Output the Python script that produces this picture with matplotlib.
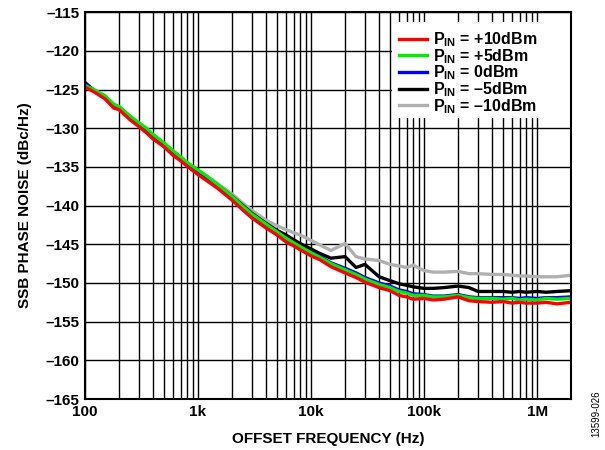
import matplotlib
matplotlib.use('Agg')
from matplotlib import pyplot as plt, ticker
from matplotlib.patches import Rectangle

plt.rcParams['font.family'] = ['Liberation Sans', 'DejaVu Sans']
plt.rcParams['mathtext.fontset'] = 'custom'
plt.rcParams['mathtext.rm'] = 'Liberation Sans:bold'
plt.rcParams['mathtext.default'] = 'rm'

# offset frequency (Hz), shared by every trace
freq = [100, 120, 150, 180, 200, 250, 300, 350, 400, 500, 600, 700, 800,
        1e3, 1.2e3, 1.5e3, 2e3, 2.5e3, 3e3, 4e3, 5e3, 6e3, 7e3, 8e3,
        1e4, 1.2e4, 1.5e4, 2e4, 2.5e4, 3e4, 4e4, 5e4, 6e4, 7e4, 8e4,
        1e5, 1.2e5, 1.5e5, 2e5, 2.5e5, 3e5, 4e5, 5e5, 6e5, 7e5, 8e5,
        1e6, 1.2e6, 1.5e6, 2e6]

pn_p10 = [-124.7, -125.3, -126.2, -127.4, -127.6, -128.9, -129.8, -130.6, -131.4, -132.4, -133.5, -134.2, -134.9,
          -136.0, -136.8, -137.8, -139.3, -140.6, -141.6, -142.9, -143.8, -144.7, -145.2, -145.7,
          -146.5, -147.0, -147.9, -148.7, -149.3, -149.9, -150.6, -151.0, -151.6, -151.8, -152.1,
          -152.0, -152.2, -152.1, -151.8, -152.3, -152.4, -152.5, -152.4, -152.6, -152.5, -152.6,
          -152.6, -152.5, -152.7, -152.5]
pn_p5 = [-124.5, -125.0, -125.8, -126.9, -127.2, -128.4, -129.3, -130.0, -130.8, -131.9, -132.9, -133.7, -134.4,
         -135.4, -136.2, -137.3, -138.8, -140.1, -141.1, -142.4, -143.4, -144.2, -144.8, -145.3,
         -146.1, -146.7, -147.5, -148.3, -148.9, -149.5, -150.2, -150.6, -151.1, -151.3, -151.6,
         -151.6, -151.8, -151.8, -151.6, -151.9, -152.0, -152.0, -152.1, -152.0, -152.2, -152.1,
         -152.2, -152.0, -152.1, -152.0]
pn_0 = [-124.2, -125.2, -126.0, -127.0, -127.4, -128.6, -129.5, -130.3, -131.0, -132.1, -133.1, -133.9, -134.6,
        -135.6, -136.4, -137.5, -138.9, -140.2, -141.2, -142.5, -143.5, -144.3, -144.9, -145.4,
        -146.0, -146.6, -147.4, -148.1, -148.7, -149.3, -150.0, -150.4, -150.9, -151.1, -151.4,
        -151.5, -151.7, -151.7, -151.5, -151.8, -151.9, -151.9, -151.9, -151.9, -152.0, -151.9,
        -152.0, -151.9, -151.9, -151.8]
pn_m5 = [-124.1, -125.1, -125.9, -127.0, -127.3, -128.5, -129.4, -130.2, -131.0, -132.0, -133.0, -133.8, -134.5,
         -135.5, -136.3, -137.4, -138.8, -140.0, -141.0, -142.3, -143.2, -143.8, -144.4, -144.9,
         -145.6, -146.2, -146.8, -146.6, -148.0, -147.6, -149.2, -149.7, -150.1, -150.3, -150.5,
         -150.7, -150.7, -150.6, -150.4, -150.6, -151.1, -151.1, -151.1, -151.2, -151.1, -151.2,
         -151.1, -151.2, -151.1, -151.0]
pn_m10 = [-124.3, -125.1, -125.9, -127.0, -127.3, -128.5, -129.4, -130.2, -130.9, -132.0, -133.0, -133.8, -134.5,
          -135.5, -136.2, -137.2, -138.5, -139.7, -140.6, -141.9, -142.6, -143.1, -143.5, -143.8,
          -144.5, -145.1, -145.8, -144.9, -146.6, -146.9, -147.1, -147.6, -147.8, -148.0, -147.7,
          -148.4, -148.6, -148.6, -148.5, -148.8, -148.8, -148.9, -148.9, -149.0, -149.1, -149.1,
          -149.2, -149.2, -149.2, -149.0]

series = [(pn_p10, '#ff0000', r'P$_{IN}$ = +10dBm'),
          (pn_p5, '#00ee00', r'P$_{IN}$ = +5dBm'),
          (pn_0, '#0000ff', r'P$_{IN}$ = 0dBm'),
          (pn_m5, '#000000', r'P$_{IN}$ = –5dBm'),
          (pn_m10, '#b0b0b0', r'P$_{IN}$ = –10dBm')]

fig = plt.figure(figsize=(6.05, 4.5), dpi=100)
ax = fig.add_axes([0.1405, 0.1133, 0.8035, 0.8597])

# draw back to front so red sits on top
for vals, c, lab in reversed(series):
    ax.plot(freq, vals, c=c, lw=2.4, label=lab, solid_joinstyle='round', zorder=3)

ax.set_xscale('log')
ax.set_xlim(100, 2e6)
ax.set_ylim(-165, -115)
ax.set_yticks(range(-165, -114, 5))
ax.set_yticklabels([f'–{abs(v)}' for v in range(-165, -114, 5)])
ax.xaxis.set_major_locator(ticker.FixedLocator([1e2, 1e3, 1e4, 1e5, 1e6]))
ax.xaxis.set_minor_locator(ticker.LogLocator(base=10, subs=range(2, 10), numticks=20))
ax.xaxis.set_minor_formatter(ticker.NullFormatter())
ax.set_xticklabels(['100', '1k', '10k', '100k', '1M'])
ax.grid(True, which='major', color='black', lw=1.0)
ax.grid(True, which='minor', axis='x', color='black', lw=1.0)
ax.set_axisbelow(True)
ax.tick_params(which='both', length=0, labelsize=11, pad=4)
for t in ax.get_xticklabels() + ax.get_yticklabels():
    t.set_fontweight('bold')
for s in ax.spines.values():
    s.set_linewidth(1.5)
    s.set_zorder(5)

ax.set_xlabel('OFFSET FREQUENCY (Hz)', fontsize=11, fontweight='bold', labelpad=10)
ax.set_ylabel('SSB PHASE NOISE (dBc/Hz)', fontsize=11, fontweight='bold', labelpad=10)

# white block behind the legend (no border in the original)
ax.add_patch(Rectangle((0.632, 0.726), 0.368, 0.248, transform=ax.transAxes,
                       facecolor='white', edgecolor='none', zorder=1.5))

h, l = ax.get_legend_handles_labels()
leg = ax.legend(h[::-1], l[::-1], loc='upper left', bbox_to_anchor=(0.646, 0.953),
                prop={'weight': 'bold', 'size': 11.5}, frameon=False,
                handlelength=1.75, handletextpad=0.4,
                labelspacing=-0.13, borderpad=0.0, borderaxespad=0)
for ln in leg.get_lines():
    ln.set_linewidth(2.4)

fig.text(0.985, 0.08, '13599-026', rotation=90, fontsize=7, ha='center', va='center')

fig.savefig('out.png', dpi=100)
